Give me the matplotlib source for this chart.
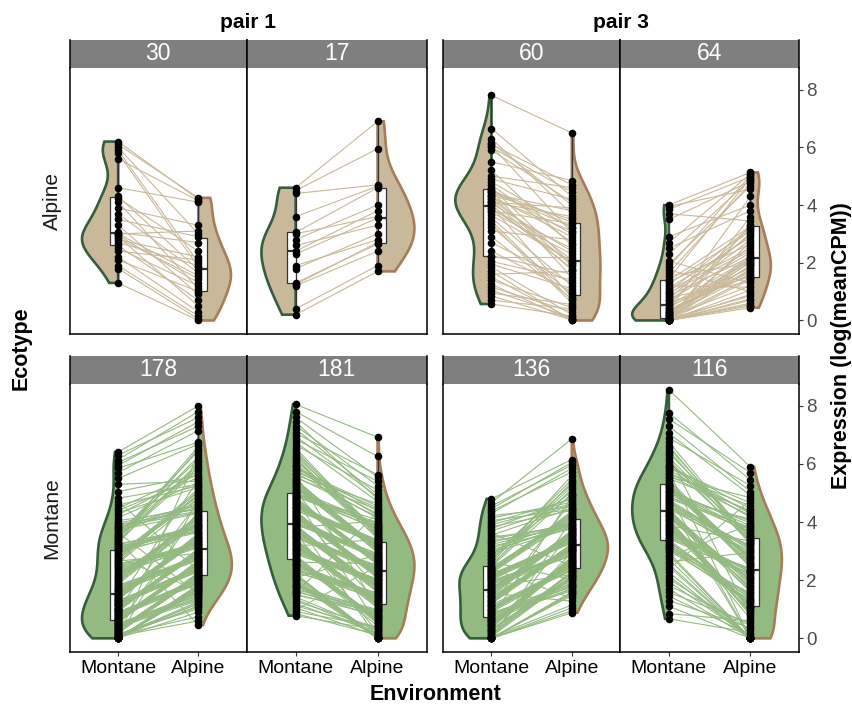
"""Paired expression (log meanCPM) of genes by ecotype and environment, half violins."""

import matplotlib

matplotlib.use("Agg")
import matplotlib.pyplot as plt
import numpy as np
from matplotlib.mlab import GaussianKDE
from matplotlib.patches import Rectangle

plt.rcParams["font.family"] = ["Liberation Sans", "DejaVu Sans"]

# ---------------------------------------------------------------- data
ecotypes = ["Alpine", "Montane"]
pair_names = ["pair 1", "pair 3"]
environments = ["Montane", "Alpine"]
strip_labels = ["30", "17", "60", "64", "178", "181", "136", "116"]
y_ticks = [0, 2, 4, 6, 8]

# Alpine ecotype, pair 1
mont_30 = [6.2, 6.1, 6.0, 5.9, 5.8, 5.6, 4.6, 4.3, 4.25, 4.1, 3.9, 3.7, 3.5, 3.3, 3.05,
           3.0, 3.0, 2.95, 2.9, 2.85, 2.8, 2.7, 2.6, 2.5, 2.4, 2.2, 2.1, 1.9, 1.8, 1.3]
alp_30 = [4.2, 4.25, 3.0, 2.0, 1.85, 4.15, 4.1, 1.75, 2.4, 1.1, 3.3, 1.65, 2.9, 0.9, 2.7,
          1.55, 3.1, 1.3, 0.5, 1.45, 2.2, 1.9, 0.7, 1.2, 2.1, 0.3, 1.0, 0.15, 0.05, 0.0]
mont_17 = [4.6, 4.5, 4.4, 3.6, 3.05, 3.0, 2.8, 2.6, 2.4, 2.3, 1.9, 1.8, 1.3, 1.25, 1.2, 0.4, 0.2]
alp_17 = [6.9, 5.95, 4.7, 4.65, 4.6, 3.6, 4.0, 3.3, 3.8, 3.55, 2.8, 3.0, 2.65, 2.7, 2.4, 1.9, 1.7]

# Alpine ecotype, pair 3
mont_60 = [7.8, 6.65, 6.3, 6.15, 6.1, 6.05, 6.0, 5.9, 5.5, 5.2, 5.0, 4.9,
           4.8, 4.7, 4.6, 4.55, 4.5, 4.5, 4.45, 4.4, 4.35, 4.3, 4.3, 4.25,
           4.2, 4.15, 4.1, 4.1, 4.05, 4.0, 3.95, 3.9, 3.85, 3.8, 3.75, 3.65,
           3.55, 3.45, 3.35, 3.25, 3.1, 2.9, 2.7, 2.4, 2.25, 2.2, 2.05, 1.95,
           1.85, 1.7, 1.6, 1.5, 1.4, 1.25, 1.15, 1.05, 0.95, 0.85, 0.7, 0.57]
alp_60 = [6.5, 4.3, 3.7, 4.0, 4.7, 3.05, 4.45, 4.1, 4.85, 2.6, 4.6, 4.2,
          3.2, 2.7, 1.95, 3.0, 3.4, 1.5, 3.25, 3.8, 3.5, 2.9, 1.9, 3.1,
          2.1, 1.75, 3.9, 3.6, 2.4, 1.8, 0.8, 2.0, 2.5, 3.35, 2.3, 2.05,
          1.2, 0.7, 0.6, 0.9, 2.8, 0.75, 1.3, 1.0, 1.6, 2.2, 1.4, 1.1,
          0.2, 0.0, 1.7, 0.05, 0.45, 0.0, 0.3, 0.1, 0.55, 0.02, 0.4, 0.15]
mont_64 = [4.0, 3.95, 3.85, 3.7, 3.5, 2.9, 2.7, 2.5, 2.3, 2.05, 1.95, 1.85, 1.75, 1.65, 1.55, 1.45,
           1.38, 1.33, 1.27, 1.2, 1.12, 1.05, 1.0, 0.95, 0.9, 0.85, 0.8, 0.75, 0.7, 0.66, 0.62, 0.58,
           0.52, 0.48, 0.44, 0.4, 0.36, 0.33, 0.3, 0.28, 0.25, 0.22, 0.2, 0.18, 0.15, 0.12, 0.1, 0.08,
           0.06, 0.05, 0.03, 0.02, 0, 0, 0, 0, 0, 0, 0, 0, 0, 0, 0, 0]
alp_64 = [5.13, 4.55, 4.98, 3.45, 4.82, 4.0, 5.08, 3.8, 4.88, 1.3, 4.65, 5.03, 1.0, 4.75, 1.97, 4.93,
          3.26, 2.65, 3.1, 1.15, 2.88, 2.5, 3.22, 2.42, 2.95, 2.2, 1.35, 3.16, 2.35, 2.8, 1.52, 3.02,
          2.16, 1.82, 2.08, 1.58, 4.3, 1.72, 2.13, 1.68, 2.0, 2.58, 1.88, 2.1, 1.62, 1.2, 1.78, 2.04,
          1.48, 0.85, 3.32, 0.5, 1.05, 0.7, 1.42, 0.6, 2.28, 0.44, 0.9, 2.72, 0.55, 3.6, 0.75, 1.92]

# Montane ecotype, pair 1
mont_178 = [0, 0, 0, 0, 0, 0, 0, 0, 0, 0,
            0.01, 0.02, 0.03, 0.05, 0.06, 0.08, 0.1, 0.11, 0.13, 0.15,
            0.17, 0.19, 0.2, 0.22, 0.24, 0.26, 0.28, 0.3, 0.31, 0.33,
            0.35, 0.37, 0.39, 0.41, 0.43, 0.45, 0.47, 0.49, 0.5, 0.52,
            0.54, 0.56, 0.58, 0.6, 0.62, 0.63, 0.65, 0.67, 0.69, 0.71,
            0.73, 0.75, 0.77, 0.79, 0.81, 0.83, 0.85, 0.87, 0.89, 0.91,
            0.93, 0.95, 0.97, 0.99, 1.0, 1.02, 1.04, 1.06, 1.08, 1.1,
            1.13, 1.15, 1.17, 1.19, 1.21, 1.23, 1.25, 1.27, 1.29, 1.31,
            1.33, 1.35, 1.37, 1.39, 1.41, 1.43, 1.45, 1.48, 1.5, 1.53,
            1.56, 1.59, 1.62, 1.65, 1.68, 1.71, 1.74, 1.77, 1.8, 1.83,
            1.86, 1.9, 1.94, 1.97, 2.0, 2.04, 2.08, 2.11, 2.15, 2.18,
            2.22, 2.26, 2.3, 2.33, 2.37, 2.41, 2.45, 2.48, 2.52, 2.55,
            2.59, 2.62, 2.66, 2.7, 2.73, 2.77, 2.8, 2.84, 2.88, 2.91,
            2.95, 2.99, 3.02, 3.05, 3.08, 3.12, 3.15, 3.18, 3.22, 3.25,
            3.28, 3.32, 3.35, 3.38, 3.42, 3.45, 3.48, 3.52, 3.56, 3.6,
            3.64, 3.68, 3.72, 3.76, 3.8, 3.84, 3.88, 3.92, 3.96, 4.05,
            4.15, 4.25, 4.32, 4.4, 4.47, 4.58, 4.7, 4.82, 5.05, 5.3,
            5.5, 5.7, 5.85, 5.95, 6.05, 6.15, 6.3, 6.41]
alp_178 = [1.7, 1.82, 1.62, 1.77, 1.85, 4.74, 1.75, 1.67, 1.8, 1.72,
           0.9, 1.22, 6.35, 1.12, 1.27, 0.6, 1.08, 0.75, 1.18, 1.02,
           2.15, 2.25, 2.09, 2.21, 2.27, 2.11, 2.19, 2.13, 2.23, 2.17,
           1.42, 1.57, 1.3, 4.4, 1.6, 1.34, 1.49, 1.38, 1.54, 1.45,
           2.56, 2.66, 2.5, 2.62, 2.68, 2.52, 2.6, 2.54, 2.64, 2.58,
           1.94, 2.05, 1.87, 2.01, 2.07, 1.9, 1.99, 1.92, 2.03, 1.96,
           2.96, 3.06, 2.9, 3.01, 3.09, 4.7, 2.99, 2.94, 3.04, 2.98,
           2.35, 2.46, 2.29, 2.42, 2.48, 2.31, 2.39, 5.47, 2.44, 2.37,
           3.44, 3.58, 3.36, 3.52, 3.61, 3.39, 3.49, 3.41, 3.55, 3.46,
           2.76, 2.86, 2.7, 2.82, 2.88, 2.72, 2.8, 2.74, 2.84, 2.78,
           4.05, 4.23, 3.94, 4.16, 4.26, 3.97, 4.12, 4.02, 4.19, 4.09,
           3.19, 3.31, 3.11, 3.26, 3.34, 3.14, 3.24, 3.16, 3.29, 3.21,
           4.83, 5.08, 2.92, 4.97, 5.14, 1.65, 4.92, 4.79, 5.03, 4.88,
           3.73, 3.88, 3.64, 3.82, 3.91, 3.67, 3.79, 3.7, 3.85, 3.76,
           6.05, 6.52, 5.81, 0.46, 6.6, 5.88, 6.25, 5.95, 6.45, 6.15,
           1.52, 4.61, 4.3, 4.52, 4.65, 4.33, 4.47, 4.37, 4.56, 4.44,
           5.36, 5.67, 5.19, 5.53, 5.74, 5.25, 2.33, 5.3, 5.6, 5.41,
           6.68, 7.15, 6.75, 7.45, 7.3, 7.8, 7.6, 8.0]
mont_181 = [0.78, 0.85, 0.92, 0.98, 1.05, 1.12, 1.2, 1.28, 1.35, 1.42,
            1.48, 1.52, 1.56, 1.6, 1.64, 1.68, 1.72, 1.76, 1.8, 1.84,
            1.88, 1.92, 1.96, 2.02, 2.05, 2.09, 2.12, 2.16, 2.19, 2.23,
            2.26, 2.3, 2.33, 2.37, 2.4, 2.44, 2.47, 2.51, 2.54, 2.57,
            2.59, 2.62, 2.65, 2.68, 2.71, 2.74, 2.77, 2.8, 2.83, 2.86,
            2.89, 2.92, 2.95, 2.98, 3.01, 3.04, 3.06, 3.09, 3.12, 3.14,
            3.17, 3.2, 3.22, 3.25, 3.28, 3.3, 3.33, 3.36, 3.38, 3.41,
            3.44, 3.46, 3.49, 3.51, 3.53, 3.56, 3.58, 3.61, 3.63, 3.65,
            3.68, 3.7, 3.73, 3.75, 3.77, 3.8, 3.82, 3.85, 3.87, 3.89,
            3.92, 3.94, 3.97, 3.99, 4.01, 4.03, 4.06, 4.08, 4.11, 4.13,
            4.15, 4.18, 4.2, 4.23, 4.25, 4.27, 4.3, 4.32, 4.35, 4.37,
            4.39, 4.42, 4.44, 4.47, 4.49, 4.51, 4.53, 4.56, 4.58, 4.61,
            4.63, 4.65, 4.68, 4.7, 4.73, 4.75, 4.77, 4.8, 4.82, 4.85,
            4.87, 4.89, 4.92, 4.94, 4.97, 4.99, 5.02, 5.05, 5.09, 5.12,
            5.16, 5.19, 5.23, 5.26, 5.3, 5.33, 5.37, 5.4, 5.44, 5.47,
            5.52, 5.56, 5.61, 5.65, 5.7, 5.74, 5.79, 5.83, 5.88, 5.92,
            5.97, 6.03, 6.1, 6.16, 6.22, 6.28, 6.35, 6.41, 6.47, 6.55,
            6.65, 6.75, 6.85, 6.95, 7.05, 7.2, 7.32, 7.45, 7.6, 7.8,
            8.05]
alp_181 = [0.29, 0.12, 0.4, 2.48, 0.09, 0.33, 0.19, 0.36, 0.15, 0.26,
           0.93, 0.78, 4.33, 0.87, 0.75, 0.96, 0.84, 0.99, 0.81, 0.9,
           0, 0, 0.06, 0, 0, 2.87, 0, 0.03, 0, 0,
           1.49, 1.35, 1.57, 1.44, 1.33, 1.52, 1.41, 1.54, 1.38, 1.46,
           0.63, 2.57, 0.72, 0.57, 0.43, 0.66, 0.54, 0.69, 0.51, 0.6,
           1.99, 1.87, 2.05, 1.94, 1.84, 2.01, 1.92, 2.03, 1.89, 1.97,
           3.41, 1.07, 1.3, 1.16, 1.05, 1.24, 1.13, 1.27, 1.1, 1.19,
           2.44, 2.32, 2.51, 2.39, 2.3, 2.46, 2.37, 0.22, 2.35, 2.41,
           1.74, 1.62, 1.82, 1.69, 1.59, 1.77, 4.03, 1.79, 1.64, 1.72,
           2.85, 2.75, 2.92, 2.81, 2.73, 0, 2.79, 2.89, 2.77, 2.83,
           2.21, 2.1, 2.28, 2.17, 2.08, 2.23, 2.14, 2.26, 2.12, 2.19,
           3.34, 3.22, 1.21, 3.29, 3.2, 3.36, 3.27, 3.39, 3.25, 3.32,
           2.65, 2.55, 2.71, 2.61, 2.53, 2.67, 2.59, 2.69, 0.47, 2.63,
           3.95, 3.78, 4.08, 3.88, 3.75, 3.98, 3.85, 1.67, 3.82, 3.92,
           3.11, 2.98, 3.18, 3.06, 2.95, 3.13, 3.03, 3.15, 3.01, 3.08,
           4.43, 4.18, 4.63, 1.02, 4.13, 4.48, 4.28, 4.55, 4.23, 4.38,
           3.62, 3.46, 3.72, 3.55, 3.43, 3.65, 3.52, 3.68, 3.48, 3.58,
           5.1, 4.71, 5.4, 4.87, 5.63, 4.95, 5.25, 4.79, 5.55, 6.26, 6.92]

# Montane ecotype, pair 3
mont_136 = [0, 0, 0, 0, 0, 0, 0, 0, 0.02, 0.04,
            0.06, 0.09, 0.12, 0.15, 0.18, 0.21, 0.24, 0.27, 0.3, 0.33,
            0.36, 0.39, 0.42, 0.45, 0.47, 0.49, 0.52, 0.55, 0.58, 0.6,
            0.63, 0.66, 0.69, 0.71, 0.74, 0.77, 0.8, 0.83, 0.85, 0.88,
            0.91, 0.94, 0.96, 0.99, 1.02, 1.05, 1.08, 1.1, 1.13, 1.16,
            1.19, 1.21, 1.24, 1.27, 1.3, 1.33, 1.35, 1.38, 1.41, 1.44,
            1.46, 1.49, 1.52, 1.55, 1.58, 1.6, 1.63, 1.66, 1.69, 1.71,
            1.74, 1.77, 1.8, 1.83, 1.85, 1.88, 1.91, 1.94, 1.96, 1.99,
            2.01, 2.03, 2.06, 2.08, 2.1, 2.13, 2.15, 2.17, 2.2, 2.22,
            2.24, 2.26, 2.29, 2.31, 2.33, 2.36, 2.38, 2.4, 2.42, 2.45,
            2.47, 2.49, 2.53, 2.58, 2.63, 2.68, 2.73, 2.78, 2.83, 2.88,
            2.93, 2.98, 3.04, 3.1, 3.17, 3.23, 3.3, 3.36, 3.42, 3.48,
            3.55, 3.62, 3.7, 3.77, 3.84, 3.91, 3.98, 4.05, 4.14, 4.22,
            4.3, 4.38, 4.46, 4.55, 4.67, 4.8]
alp_136 = [1.05, 1.52, 3.74, 1.6, 0.88, 4.09, 1.56, 0.95, 1.47, 1.15,
           2.11, 2.25, 2.16, 2.3, 2.05, 2.94, 2.27, 2.08, 2.22, 2.13,
           2.64, 2.76, 2.69, 2.81, 2.59, 2.71, 2.79, 2.61, 2.74, 2.66,
           1.72, 1.92, 1.8, 4.88, 1.64, 1.84, 1.97, 1.68, 1.88, 1.76,
           2.38, 2.51, 2.44, 2.56, 2.33, 2.47, 2.54, 2.36, 4.73, 2.41,
           3.11, 3.21, 3.15, 3.26, 3.07, 3.17, 3.23, 3.09, 3.19, 3.13,
           3.56, 3.69, 3.61, 1.28, 3.51, 3.64, 3.71, 3.54, 3.66, 3.59,
           2.89, 3.01, 2.19, 3.05, 2.84, 2.96, 3.03, 2.86, 2.99, 2.91,
           3.32, 3.43, 3.36, 3.48, 3.28, 3.38, 3.45, 3.3, 3.41, 3.34,
           4.12, 4.3, 4.19, 4.37, 4.05, 4.23, 4.33, 1.38, 4.26, 4.16,
           4.98, 5.38, 5.13, 5.6, 2.02, 5.22, 5.46, 4.93, 5.3, 5.05,
           3.81, 3.95, 3.86, 4.02, 3.76, 3.89, 3.98, 3.79, 3.92, 3.84,
           4.47, 2.49, 4.58, 4.83, 4.4, 4.63, 4.78, 4.44, 4.68, 4.53,
           5.85, 5.72, 6.05, 5.96, 6.86, 6.15]
mont_116 = [0.67, 0.85, 1.1, 1.3, 1.45, 1.58, 1.7, 1.82, 1.95, 2.05,
            2.15, 2.27, 2.38, 2.47, 2.55, 2.63, 2.72, 2.8, 2.88, 2.96,
            3.02, 3.06, 3.1, 3.14, 3.18, 3.22, 3.26, 3.3, 3.34, 3.38,
            3.42, 3.46, 3.5, 3.54, 3.58, 3.61, 3.65, 3.69, 3.72, 3.76,
            3.8, 3.84, 3.88, 3.91, 3.95, 3.98, 4.02, 4.05, 4.08, 4.11,
            4.14, 4.17, 4.2, 4.23, 4.26, 4.29, 4.32, 4.35, 4.38, 4.42,
            4.45, 4.49, 4.52, 4.56, 4.59, 4.63, 4.66, 4.7, 4.73, 4.77,
            4.8, 4.84, 4.87, 4.91, 4.94, 4.98, 5.02, 5.05, 5.08, 5.11,
            5.14, 5.17, 5.2, 5.23, 5.26, 5.29, 5.31, 5.35, 5.4, 5.45,
            5.5, 5.55, 5.6, 5.65, 5.7, 5.75, 5.8, 5.85, 5.9, 5.94,
            5.98, 6.05, 6.13, 6.22, 6.3, 6.38, 6.46, 6.55, 6.62, 6.75,
            6.9, 7.05, 7.3, 7.55, 7.75, 8.55]
alp_116 = [0.2, 0.6, 0, 0.36, 0.12, 0.52, 0, 0.44, 0.05, 0.28,
           0, 0, 4.75, 0, 0, 2.96, 0, 3.92, 0, 0,
           1.32, 1.55, 1.2, 1.4, 1.28, 1.5, 1.16, 1.45, 1.24, 1.36,
           2.24, 2.4, 2.12, 2.3, 2.2, 2.36, 2.08, 2.33, 2.16, 2.27,
           0.93, 1.12, 3.34, 1.03, 0.87, 1.09, 0.67, 1.07, 0.8, 0.98,
           1.8, 2.04, 1.65, 1.9, 1.75, 2.0, 1.6, 1.95, 1.7, 1.85,
           3.0, 3.2, 2.88, 3.08, 0, 3.16, 2.84, 3.12, 2.92, 3.04,
           3.82, 4.1, 3.67, 0, 3.77, 4.04, 3.62, 3.97, 3.72, 3.87,
           2.6, 2.8, 2.48, 2.68, 2.56, 2.76, 2.44, 2.72, 2.52, 2.64,
           4.4, 4.84, 4.22, 4.56, 4.34, 0, 4.16, 4.66, 4.28, 4.46,
           3.37, 3.57, 3.28, 3.43, 0.74, 3.52, 3.24, 3.47, 3.31, 3.4,
           5.25, 4.92, 5.05, 5.7, 5.45, 5.9]

panel_data = [
    (mont_30, alp_30), (mont_17, alp_17), (mont_60, alp_60), (mont_64, alp_64),
    (mont_178, alp_178), (mont_181, alp_181), (mont_136, alp_136), (mont_116, alp_116),
]

# ---------------------------------------------------------------- style / layout
FILL = {"Alpine": "#C9B99A", "Montane": "#93BA80"}
EDGE = {"Montane": "#355E3B", "Alpine": "#A87C5A"}
W, H = 853, 705
COLS = [(70, 246.5), (246.5, 426.7), (443.3, 620.0), (620.0, 799.3)]
ROWS = [(68, 334), (384, 652)]
STRIP = 28
YLIM = (-0.47, 8.75)
HALF = 0.45      # max half-width of a violin
BOXW = 0.106     # half-box width


def nrd0(v):
    sd = v.std(ddof=1)
    q75, q25 = np.percentile(v, [75, 25])
    lo = min(sd, (q75 - q25) / 1.34) or sd
    return 0.9 * lo * len(v) ** -0.2


def density(v):
    grid = np.linspace(v.min(), v.max(), 512)
    kde = GaussianKDE(v, bw_method=nrd0(v) / v.std(ddof=1))
    return grid, kde.evaluate(grid)


def draw_panel(ax, mont, alp, ecotype):
    mont = np.asarray(mont, float)
    alp = np.asarray(alp, float)
    assert len(mont) == len(alp)
    xm, xa = 1, 2  # category positions: Montane, Alpine environment

    gm, dm = density(mont)
    ga, da = density(alp)
    peak = max(dm.max(), da.max())
    ax.fill(np.r_[xm, xm - HALF * dm / peak, xm], np.r_[gm[0], gm, gm[-1]],
            facecolor=FILL[ecotype], edgecolor=EDGE["Montane"], lw=1.9, zorder=1)
    ax.fill(np.r_[xa, xa + HALF * da / peak, xa], np.r_[ga[0], ga, ga[-1]],
            facecolor=FILL[ecotype], edgecolor=EDGE["Alpine"], lw=1.9, zorder=1)

    ax.plot([xm, xa], np.vstack([mont, alp]), color=FILL[ecotype], lw=0.8, zorder=2)

    bp = ax.boxplot([mont, alp], positions=[xm - BOXW / 2, xa + BOXW / 2], widths=BOXW,
                    whis=1.5, showfliers=False, showcaps=False, patch_artist=True,
                    manage_ticks=False, zorder=3,
                    boxprops=dict(facecolor="white", edgecolor="#333333", linewidth=0.9),
                    whiskerprops=dict(color="#333333", linewidth=0.9),
                    medianprops=dict(color="#333333", linewidth=1.6))
    for whisker, x0 in zip(bp["whiskers"], [xm, xm, xa, xa]):
        whisker.set_xdata([x0, x0])

    ax.scatter(np.full(len(mont), xm), mont, s=30, color="black", linewidths=0, zorder=4)
    ax.scatter(np.full(len(alp), xa), alp, s=30, color="black", linewidths=0, zorder=4)


fig = plt.figure(figsize=(W / 100, H / 100), dpi=100)

for idx, (mont, alp) in enumerate(panel_data):
    row, col = divmod(idx, 4)
    (x0, x1), (y0, y1) = COLS[col], ROWS[row]
    ax = fig.add_axes([x0 / W, 1 - y1 / H, (x1 - x0) / W, (y1 - y0) / H])
    draw_panel(ax, mont, alp, ecotypes[row])

    ax.set_xlim(0.4, 2.6)
    ax.set_ylim(*YLIM)
    ax.spines["top"].set_visible(False)
    for side in ("left", "right", "bottom"):
        ax.spines[side].set_linewidth(1.1)
        ax.spines[side].set_color("black")

    if row == 1:
        ax.set_xticks([1, 2], environments)
        ax.tick_params(axis="x", length=3, width=0.8, color="#333333",
                       labelsize=14, labelcolor="black", pad=3)
    else:
        ax.set_xticks([])
    if col == 3:
        ax.yaxis.tick_right()
        ax.set_yticks(y_ticks)
        ax.tick_params(axis="y", length=3, width=0.8, color="#333333",
                       labelsize=13.5, labelcolor="#4D4D4D", pad=2)
    else:
        ax.set_yticks([])

    # facet strip
    h = STRIP / (y1 - y0)
    ax.add_patch(Rectangle((0, 1), 1, h, transform=ax.transAxes, facecolor="#7F7F7F",
                           edgecolor="none", clip_on=False, zorder=5))
    ax.text(0.5, 1 + h / 2, strip_labels[idx], transform=ax.transAxes, ha="center",
            va="center", color="white", fontsize=16.5, zorder=6)
    for xe in (0, 1):
        ax.plot([xe, xe], [1, 1 + h], transform=ax.transAxes, color="black", lw=1.1,
                clip_on=False, zorder=6)

# pair titles, row labels and axis titles
for name, (c0, c1) in zip(pair_names, [(COLS[0][0], COLS[1][1]), (COLS[2][0], COLS[3][1])]):
    fig.text((c0 + c1) / 2 / W, 1 - 22 / H, name, ha="center", va="center",
             fontsize=15, fontweight="bold")
for name, (y0, y1) in zip(ecotypes, ROWS):
    fig.text(52 / W, 1 - (y0 + y1) / 2 / H, name, rotation=90, ha="center", va="center",
             fontsize=15, color="#1A1A1A")
fig.text(436 / W, 1 - 695 / H, "Environment", ha="center", va="center",
         fontsize=15.5, fontweight="bold")
fig.text(21 / W, 1 - 348 / H, "Ecotype", rotation=90, ha="center", va="center",
         fontsize=15.5, fontweight="bold")
fig.text(842 / W, 1 - 346 / H, "Expression (log(meanCPM))", rotation=90, ha="center",
         va="center", fontsize=15.5, fontweight="bold")

fig.savefig("out.png", dpi=100)
